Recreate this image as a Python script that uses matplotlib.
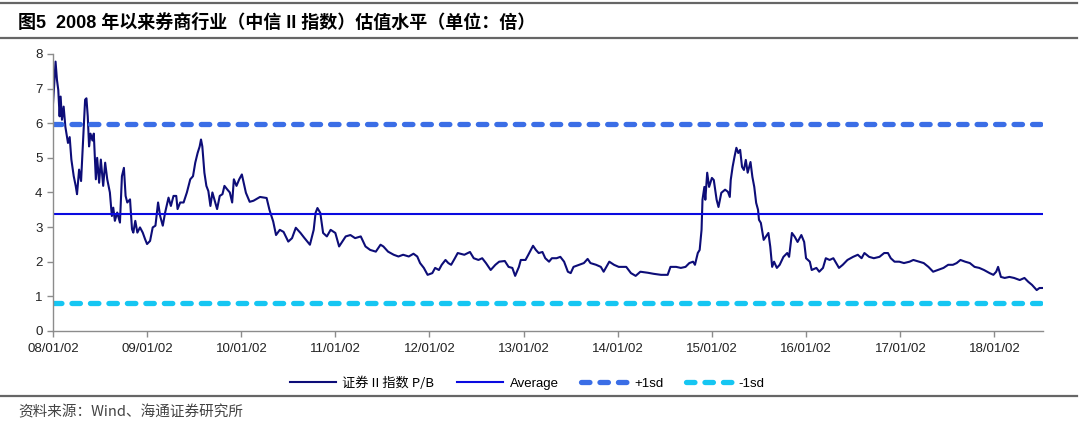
import numpy as np
import pandas as pd
import matplotlib
matplotlib.use('Agg')
import matplotlib.pyplot as plt
import matplotlib.dates as mdates
from matplotlib.lines import Line2D

plt.rcParams['font.family'] = ['Liberation Sans', 'Noto Sans CJK SC', 'DejaVu Sans']

# P/B readings, years counted from 2008-01-02
years_a = [0, 0.011, 0.028, 0.043, 0.057, 0.071, 0.082, 0.096, 0.114, 0.132,
           0.16, 0.178, 0.196, 0.221, 0.242, 0.256, 0.278, 0.299, 0.32, 0.342,
           0.356, 0.37, 0.384, 0.399, 0.42, 0.434, 0.456, 0.47, 0.491, 0.509,
           0.534, 0.555, 0.577, 0.605, 0.626, 0.641, 0.658, 0.683, 0.712, 0.733,
           0.754, 0.772, 0.79, 0.819, 0.84, 0.854, 0.875, 0.897, 0.925, 0.954,
           0.979, 1.0, 1.032, 1.06, 1.089, 1.117, 1.139, 1.167, 1.192, 1.228,
           1.253, 1.281, 1.31, 1.324, 1.352, 1.388, 1.423, 1.459, 1.488, 1.512,
           1.537, 1.559, 1.573, 1.587, 1.609, 1.63, 1.651, 1.673, 1.694, 1.715,
           1.744, 1.772, 1.801, 1.822, 1.851, 1.879, 1.904, 1.922, 1.95, 1.979,
           2.007]
pb_a = [6.53, 7.0, 7.78, 7.25, 6.96, 6.2, 6.77, 6.1, 6.48, 5.9,
        5.43, 5.6, 4.95, 4.47, 4.19, 3.95, 4.66, 4.33, 5.5, 6.68,
        6.72, 6.2, 5.33, 5.7, 5.5, 5.7, 4.38, 5.0, 4.28, 4.95,
        4.19, 4.86, 4.38, 4.0, 3.32, 3.56, 3.18, 3.42, 3.13, 4.47,
        4.71, 3.9, 3.71, 3.8, 2.94, 2.84, 3.18, 2.84, 2.99, 2.84,
        2.65, 2.51, 2.6, 2.99, 3.04, 3.71, 3.32, 3.04, 3.42, 3.85,
        3.61, 3.9, 3.9, 3.52, 3.71, 3.71, 4.0, 4.38, 4.47, 4.86,
        5.14, 5.33, 5.53, 5.33, 4.57, 4.19, 4.04, 3.61, 4.0, 3.8,
        3.52, 3.9, 3.95, 4.19, 4.09, 4.0, 3.71, 4.38, 4.19, 4.38,
        4.52]

years_b = [2.05, 2.09, 2.13, 2.2, 2.27, 2.3, 2.34, 2.37, 2.41, 2.45,
           2.5, 2.54, 2.58, 2.63, 2.67, 2.73, 2.77, 2.79, 2.81, 2.84,
           2.87, 2.91, 2.95, 3.0, 3.04, 3.11, 3.16, 3.21, 3.27, 3.32,
           3.37, 3.43, 3.48, 3.51, 3.56, 3.62, 3.67, 3.72, 3.78, 3.83,
           3.87, 3.9, 3.94, 3.98, 4.03, 4.06, 4.1, 4.13]
pb_b = [3.99, 3.73, 3.76, 3.87, 3.84, 3.5, 3.16, 2.77, 2.92, 2.86,
        2.58, 2.68, 2.98, 2.83, 2.69, 2.49, 2.92, 3.41, 3.55, 3.41,
        2.83, 2.73, 2.92, 2.83, 2.44, 2.73, 2.77, 2.68, 2.73, 2.44,
        2.34, 2.29, 2.49, 2.44, 2.29, 2.2, 2.15, 2.2, 2.15, 2.23,
        2.15, 1.96, 1.82, 1.62, 1.67, 1.82, 1.76, 1.91]

years_c = [4.17, 4.2, 4.23, 4.27, 4.3, 4.37, 4.43, 4.47, 4.52, 4.56,
           4.6, 4.65, 4.7, 4.74, 4.8, 4.84, 4.88, 4.91, 4.95, 4.97,
           5.02, 5.05, 5.1, 5.13, 5.16, 5.2, 5.23, 5.27, 5.3, 5.35,
           5.39, 5.43, 5.47, 5.5, 5.53, 5.59, 5.64, 5.68, 5.71, 5.77]
pb_c = [2.05, 1.96, 1.91, 2.1, 2.25, 2.2, 2.28, 2.1, 2.05, 2.1,
        1.96, 1.76, 1.91, 2.0, 2.02, 1.85, 1.82, 1.59, 1.85, 2.05,
        2.05, 2.2, 2.46, 2.34, 2.25, 2.28, 2.1, 2.0, 2.1, 2.1,
        2.14, 2.0, 1.71, 1.67, 1.85, 1.91, 1.96, 2.08, 1.96, 1.91]

years_d = [5.82, 5.85, 5.91, 5.96, 6.01, 6.09, 6.14, 6.19, 6.24, 6.32,
           6.38, 6.46, 6.53, 6.56, 6.62, 6.67, 6.72, 6.76, 6.8, 6.82,
           6.85, 6.87, 6.89, 6.9, 6.92, 6.93, 6.95, 6.97, 7.0, 7.02,
           7.05, 7.07, 7.1, 7.14, 7.17, 7.19, 7.2, 7.22, 7.24, 7.26,
           7.28, 7.3, 7.32, 7.34, 7.36, 7.38, 7.41, 7.43, 7.45, 7.47,
           7.49]
pb_d = [1.85, 1.71, 2.0, 1.91, 1.85, 1.85, 1.67, 1.59, 1.71, 1.68,
        1.65, 1.62, 1.62, 1.85, 1.85, 1.82, 1.85, 1.96, 2.0, 1.91,
        2.25, 2.34, 2.92, 3.79, 4.16, 3.79, 4.57, 4.16, 4.42, 4.36,
        3.79, 3.58, 3.99, 4.08, 4.02, 3.87, 4.36, 4.74, 5.03, 5.29,
        5.14, 5.23, 4.74, 4.65, 4.94, 4.57, 4.88, 4.45, 4.16, 3.7,
        3.5]

years_e = [7.5, 7.52, 7.55, 7.6, 7.62, 7.64, 7.66, 7.69, 7.72, 7.76,
           7.8, 7.82, 7.85, 7.88, 7.91, 7.95, 7.98, 8.0, 8.04, 8.06,
           8.11, 8.14, 8.18, 8.21, 8.25, 8.29, 8.32, 8.35, 8.39, 8.44,
           8.5, 8.55, 8.59, 8.62, 8.67, 8.72, 8.78, 8.83, 8.87, 8.9,
           8.94, 8.99, 9.04, 9.1, 9.14, 9.2, 9.25, 9.3, 9.35, 9.4,
           9.46, 9.51, 9.56, 9.6, 9.64, 9.69, 9.74, 9.79, 9.84, 9.89,
           9.95, 9.99, 10.02, 10.04, 10.07, 10.11, 10.16, 10.21, 10.27, 10.32,
           10.36, 10.4, 10.45, 10.48, 10.52]
pb_e = [3.21, 3.12, 2.63, 2.83, 2.43, 1.85, 2.0, 1.82, 1.91, 2.14,
        2.25, 2.14, 2.83, 2.72, 2.57, 2.77, 2.57, 2.1, 2.0, 1.76,
        1.82, 1.71, 1.82, 2.1, 2.05, 2.1, 1.96, 1.82, 1.91, 2.05,
        2.14, 2.2, 2.1, 2.25, 2.14, 2.1, 2.14, 2.25, 2.25, 2.1,
        2.0, 2.0, 1.96, 2.0, 2.05, 2.0, 1.96, 1.85, 1.71, 1.76,
        1.82, 1.91, 1.91, 1.96, 2.05, 2.0, 1.96, 1.85, 1.82, 1.76,
        1.67, 1.62, 1.71, 1.85, 1.56, 1.53, 1.56, 1.53, 1.47, 1.53,
        1.42, 1.33, 1.18, 1.24, 1.24]

pb_average = 3.38
pb_plus_1sd = 5.97
pb_minus_1sd = 0.82

tick_years = np.arange(2008, 2019)

years = np.concatenate([years_a, years_b, years_c, years_d, years_e])
pb = np.concatenate([pb_a, pb_b, pb_c, pb_d, pb_e])
start = pd.Timestamp('2008-01-02')
dates = start + pd.to_timedelta(years * 365.25, unit='D')

fig = plt.figure(figsize=(10.8, 4.32), dpi=100)
ax = fig.add_axes([0.049, 0.234, 0.917, 0.641])

line_pb, = ax.plot(dates, pb, color='#0d0d78', lw=1.5, label='证券 II 指数 P/B')
line_avg = ax.axhline(pb_average, color='#0a0ae0', lw=1.5, label='Average')
line_up = ax.axhline(pb_plus_1sd, color='#3b6ee6', lw=3.8, dashes=(1.6, 1.9),
                     dash_capstyle='round', label='+1sd')
line_dn = ax.axhline(pb_minus_1sd, color='#16c6f2', lw=3.8, dashes=(1.6, 1.9),
                     dash_capstyle='round', label='-1sd')

ax.set_xlim(dates[0], dates[-1])
ax.set_ylim(0, 8)
ax.set_yticks(range(0, 9))
ax.set_xticks([pd.Timestamp('%d-01-02' % y) for y in tick_years])
ax.xaxis.set_major_formatter(mdates.DateFormatter('%y/%m/%d'))
for side in ['top', 'right']:
    ax.spines[side].set_visible(False)
for side in ['left', 'bottom']:
    ax.spines[side].set_color('#8c8c8c')
    ax.spines[side].set_linewidth(1.0)
ax.tick_params(axis='both', colors='#8c8c8c', labelcolor='#222222',
               labelsize=9.5, length=4, width=1.0)
ax.tick_params(axis='x', pad=5)

leg = fig.legend(handles=[line_pb, line_avg, line_up, line_dn],
                 loc='center', bbox_to_anchor=(0.488, 0.113), ncol=4,
                 frameon=False, fontsize=9.5, handlelength=3.5,
                 columnspacing=1.7, handletextpad=0.5)
leg.get_texts()[0].set_family(['Noto Sans CJK SC', 'Liberation Sans'])

# title, separators and source
fig.text(0.017, 0.948, '图5  2008 年以来券商行业（中信 II 指数）估值水平（单位：倍）',
         fontsize=13, fontweight='bold', va='center', ha='left',
         family=['Liberation Sans', 'Noto Sans CJK SC'])
for yy in [0.992, 0.912, 0.083]:
    fig.add_artist(Line2D([0.0, 0.997], [yy, yy], color='#666666', lw=1.6,
                          transform=fig.transFigure))
fig.text(0.017, 0.046, '资料来源：Wind、海通证券研究所', fontsize=10.5,
         va='center', ha='left', color='#444444',
         family=['Noto Sans CJK SC', 'Liberation Sans'])

fig.savefig('out.png', dpi=100)
